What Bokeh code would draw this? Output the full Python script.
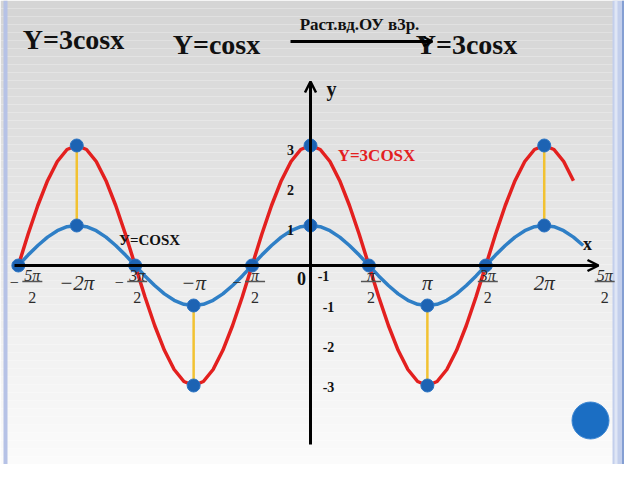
import numpy as np
from bokeh.plotting import figure
from bokeh.models import Range1d, Arrow, OpenHead
from bokeh.core.properties import value
from bokeh.embed import file_html
from bokeh.resources import INLINE

# ---------------- data ----------------
PI = np.pi
# curve readings every pi/12
blue_k0, red_k0 = -30, -30
blue_y = [0, .26, .5, .71, .87, .97, 1, .97, .87, .71, .5, .26, 0, -.26, -.5, -.71, -.87, -.97, -1, -.97, -.87, -.71, -.5, -.26,
          0, .26, .5, .71, .87, .97, 1, .97, .87, .71, .5, .26, 0, -.26, -.5, -.71, -.87, -.97, -1, -.97, -.87, -.71, -.5, -.26,
          0, .26, .5, .71, .87, .97, 1, .97, .87, .71, .5]
red_y = [0, .78, 1.5, 2.12, 2.6, 2.9, 3, 2.9, 2.6, 2.12, 1.5, .78, 0, -.78, -1.5, -2.12, -2.6, -2.9, -3, -2.9, -2.6, -2.12, -1.5, -.78,
         0, .78, 1.5, 2.12, 2.6, 2.9, 3, 2.9, 2.6, 2.12, 1.5, .78, 0, -.78, -1.5, -2.12, -2.6, -2.9, -3, -2.9, -2.6, -2.12, -1.5, -.78,
         0, .78, 1.5, 2.12, 2.6, 2.9, 3, 2.9, 2.6, 2.12]
# marked points (x in units of pi/2)
dot_xh = [-5, -3, -1, 1, 3, -4, -4, -2, -2, 0, 0, 2, 2, 4, 4]
dot_y = [0, 0, 0, 0, 0, 1, 3, -1, -3, 1, 3, -1, -3, 1, 3]
stretch_xh = [-4, -2, 0, 2, 4]
stretch_from = [1, -1, 1, -1, 1]
stretch_to = [3, -3, 3, -3, 3]
# x tick labels
frac_xh = [-5, -3, -1, 1, 3, 5]
frac_num = ["5π", "3π", "π", "π", "3π", "5π"]
frac_neg = [True, True, True, False, False, False]
whole_xh = [-4, -2, 2, 4]
whole_txt = ["−2π", "−π", "π", "2π"]
ytick_vals = [3, 2, 1, -1, -2, -3]
ytick_txt = ["3", "2", "1", "-1", "-2", "-3"]

# ---------------- layout helpers ----------------
S, T = 37.2, 40.0          # px per radian, px per unit
X0, Y0 = 310, 265          # pixel of origin
def dx(X): return (X - X0) / S
def dy(Y): return (Y0 - Y) / T

W, H = 624, 464
p = figure(width=W, height=H, x_range=Range1d(dx(0), dx(W)), y_range=Range1d(dy(H), dy(0)),
           output_backend="svg", toolbar_location=None, min_border=0, outline_line_color=None,
           x_axis_type=None, y_axis_type=None)
p.grid.visible = False

# background gradient strips
tops, bots, cols = [], [], []
n = 58
for i in range(n):
    ya, yb = 8 * i, 8 * i + 8
    t = i / (n - 1)
    c = int(213 + (251 - 213) * t)
    tops.append(dy(ya)); bots.append(dy(yb)); cols.append("#%02x%02x%02x" % (c, c, c))
p.quad(left=dx(0), right=dx(W), top=tops, bottom=bots, fill_color=cols, line_color=None)

# frame stripes
p.quad(left=dx(3), right=dx(7), top=dy(0), bottom=dy(H), fill_color="#b6c2e6", line_color=None)
p.quad(left=dx(612), right=dx(W), top=dy(0), bottom=dy(H), fill_color="#c3cfec", line_color=None)
p.quad(left=dx(614), right=dx(617), top=dy(0), bottom=dy(H), fill_color="#dfe6f5", line_color=None)
p.segment(x0=dx(622.5), y0=dy(0), x1=dx(622.5), y1=dy(H), line_color="#6f8fcb", line_width=1.5)

# yellow stretch lines
p.segment(x0=[v * PI / 2 for v in stretch_xh], y0=stretch_from, x1=[v * PI / 2 for v in stretch_xh], y1=stretch_to,
          line_color="#f2c232", line_width=2.5)

# curves
bx = [(blue_k0 + i) * PI / 12 for i in range(len(blue_y))]
rx = [(red_k0 + i) * PI / 12 for i in range(len(red_y))]
p.line(bx, blue_y, line_color="#2f7fc6", line_width=3.5, line_join="round")
p.line(rx, red_y, line_color="#e3201f", line_width=3.5, line_join="round")

# axes
p.add_layout(Arrow(end=OpenHead(size=11, line_width=2.5, line_color="black"), x_start=dx(14), y_start=0,
                   x_end=dx(598), y_end=0, line_width=3, line_color="black"))
p.add_layout(Arrow(end=OpenHead(size=11, line_width=2.5, line_color="black"), x_start=0, y_start=dy(444),
                   x_end=0, y_end=dy(81), line_width=3, line_color="black"))

# dots
p.scatter([v * PI / 2 for v in dot_xh], dot_y, size=13, fill_color="#1d63b3", line_color="#2a74c4", line_width=1)

serif = value("Liberation Serif")

# x tick labels: fractions
fx = [v * PI / 2 for v in frac_xh]
foff = [14, 2, 3, 2, 2, 2]
for x, num, neg, o in zip(fx, frac_num, frac_neg, foff):
    p.text([x], [0], text=[num], x_offset=o, y_offset=10, text_align="center", text_baseline="middle",
           text_font=serif, text_font_style="italic", text_font_size="16px", text_color="#2b2b2b")
    p.text([x], [0], text=["2"], x_offset=o, y_offset=32, text_align="center", text_baseline="middle",
           text_font=serif, text_font_size="16px", text_color="#2b2b2b")
    p.rect([x + o / S], [dy(281)], width=20, height=1.5, width_units="screen", height_units="screen",
           fill_color="#555555", line_color=None)
    if neg:
        p.text([x], [0], text=["−"], x_offset=o - 18, y_offset=17, text_align="center", text_baseline="middle",
               text_font=serif, text_font_size="16px", text_color="#2b2b2b")
# whole tick labels
p.text([v * PI / 2 for v in whole_xh], [0] * 4, text=whole_txt, y_offset=17, text_align="center",
       text_baseline="middle", text_font=serif, text_font_style="italic", text_font_size="21px",
       text_color="#2b2b2b")

# y tick labels
pos = [(v, t) for v, t in zip(ytick_vals, ytick_txt) if v > 0]
neg = [(v, t) for v, t in zip(ytick_vals, ytick_txt) if v < 0]
p.text([0] * len(pos), [v for v, _ in pos], text=[t for _, t in pos], x_offset=-20, y_offset=4,
       text_align="center", text_baseline="middle", text_font=serif, text_font_style="bold",
       text_font_size="14px", text_color="#111111")
p.text([0] * len(neg), [v for v, _ in neg], text=[t for _, t in neg], x_offset=18, y_offset=1,
       text_align="center", text_baseline="middle", text_font=serif, text_font_style="bold",
       text_font_size="14px", text_color="#111111")
p.text([0], [0], text=["-1"], x_offset=13, y_offset=10, text_align="center", text_baseline="middle",
       text_font=serif, text_font_style="bold", text_font_size="14px", text_color="#111111")
p.text([0], [0], text=["0"], x_offset=-9, y_offset=13, text_align="center", text_baseline="middle",
       text_font=serif, text_font_style="bold", text_font_size="18px", text_color="#111111")

# axis names
p.text([dx(587)], [dy(243)], text=["x"], text_align="center", text_baseline="middle", text_font=serif,
       text_font_style="bold", text_font_size="18px", text_color="#111111")
p.text([dx(331)], [dy(88)], text=["y"], text_align="center", text_baseline="middle", text_font=serif,
       text_font_style="bold", text_font_size="20px", text_color="#111111")

# curve labels
p.text([dx(149)], [dy(239)], text=["У=COSX"], text_align="center", text_baseline="middle", text_font=serif,
       text_font_style="bold", text_font_size="15px", text_color="#111111")
p.text([dx(376)], [dy(155)], text=["Y=3COSX"], text_align="center", text_baseline="middle", text_font=serif,
       text_font_style="bold", text_font_size="17px", text_color="#e3201f")

# titles
p.text([dx(73)], [dy(39)], text=["Y=3cosx"], text_align="center", text_baseline="middle", text_font=serif,
       text_font_style="bold", text_font_size="28px", text_color="#111111")
p.text([dx(216)], [dy(44)], text=["Y=cosx"], text_align="center", text_baseline="middle", text_font=serif,
       text_font_style="bold", text_font_size="28px", text_color="#111111")
p.add_layout(Arrow(end=OpenHead(size=9, line_width=2, line_color="black"), x_start=dx(290), y_start=dy(41),
                   x_end=dx(432), y_end=dy(41), line_width=3, line_color="black"))
p.text([dx(359)], [dy(24)], text=["Раст.вд.ОУ в3р."], text_align="center", text_baseline="middle",
       text_font=serif, text_font_style="bold", text_font_size="17px", text_color="#111111")
p.text([dx(466)], [dy(44)], text=["Y=3cosx"], text_align="center", text_baseline="middle", text_font=serif,
       text_font_style="bold", text_font_size="28px", text_color="#111111")

# decorative button
p.scatter([dx(590)], [dy(420)], size=37, fill_color="#1b6ec3", line_color="#3d87d3", line_width=1)

open("out.html", "w").write(file_html(p, INLINE))
